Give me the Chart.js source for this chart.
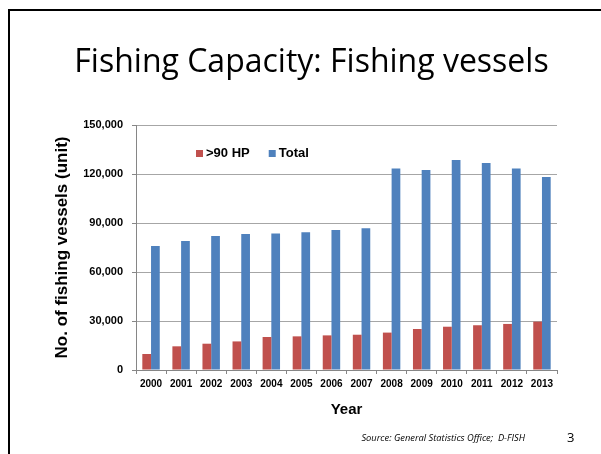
<!DOCTYPE html>
<html>
<head>
<meta charset="utf-8">
<script src="https://cdn.jsdelivr.net/npm/chart.js@4.4.1/dist/chart.umd.min.js"></script>
<style>
  html, body { margin: 0; padding: 0; background: #fff; }
  #slide { position: relative; width: 601px; height: 454px; overflow: hidden; }
  #frame {
    position: absolute; left: 8px; top: 9px; width: 700px; height: 600px;
    border-top: 2px solid #000; border-left: 2px solid #000;
  }
  #title {
    position: absolute; left: 0; top: 44px; width: 623px; text-align: center;
    font-family: "Open Sans", sans-serif; font-size: 32px; line-height: 1; color: #000;
    white-space: nowrap;
  }
  #source {
    position: absolute; right: 76px; top: 433px;
    font-family: "Open Sans", sans-serif; font-style: italic; font-size: 9.3px; line-height: 1; color: #000;
    white-space: nowrap;
  }
  #page {
    position: absolute; left: 567px; top: 431px;
    font-family: "Open Sans", sans-serif; font-size: 13px; line-height: 1; color: #000;
  }
  canvas { position: absolute; left: 0; top: 0; }
</style>
</head>
<body>
<div id="slide">
  <canvas id="chart" width="601" height="454"></canvas>
  <div id="frame"></div>
  <div id="title">Fishing Capacity: Fishing vessels</div>
  <div id="source">Source: General Statistics Office;&nbsp; D-FISH</div>
  <div id="page">3</div>
</div>
<script>
const years = ['2000', '2001', '2002', '2003', '2004', '2005', '2006',
               '2007', '2008', '2009', '2010', '2011', '2012', '2013'];
const over90hp = [9800, 14500, 16100, 17500, 20200, 20600, 21200,
                  21600, 22900, 25100, 26500, 27400, 28200, 29600];
const total = [75900, 79000, 82000, 83300, 83500, 84300, 85700,
               86800, 123300, 122500, 128600, 126700, 123300, 118200];
const yTicks = [0, 30000, 60000, 90000, 120000, 150000];

const FONT = '"Liberation Sans", Arial, sans-serif';
Chart.defaults.font.family = FONT;
Chart.defaults.color = '#000';

// legend drawn inside the plot, like the Excel one
const slideLegend = {
    id: 'slideLegend',
    afterDraw(chart) {
        const ctx = chart.ctx;
        ctx.save();
        ctx.font = 'bold 13px ' + FONT;
        ctx.textBaseline = 'middle';
        let x = 196;
        const y = 153.5;
        chart.data.datasets.forEach(ds => {
            ctx.fillStyle = ds.backgroundColor;
            ctx.fillRect(x, y - 3.5, 7, 7);
            ctx.fillStyle = '#000';
            ctx.fillText(ds.label, x + 10, y);
            x += 10 + ctx.measureText(ds.label).width + 19;
        });
        ctx.restore();
    }
};

new Chart(document.getElementById('chart'), {
    type: 'bar',
    data: {
        labels: years,
        datasets: [
            { label: '>90 HP', data: over90hp, backgroundColor: '#C0504D' },
            { label: 'Total', data: total, backgroundColor: '#4F81BD' }
        ]
    },
    options: {
        responsive: false,
        animation: false,
        devicePixelRatio: 1,
        layout: { padding: { left: 50, right: 44, top: 125, bottom: 30 } },
        datasets: { bar: { categoryPercentage: 0.58, barPercentage: 1 } },
        plugins: { legend: { display: false }, tooltip: { enabled: false } },
        scales: {
            x: {
                grid: { drawOnChartArea: false, tickLength: 4, color: '#868686', offset: true },
                border: { color: '#868686' },
                ticks: { font: { size: 10, weight: 'bold' }, padding: 4, maxRotation: 0, autoSkip: false },
                title: { display: true, text: 'Year', font: { size: 15, weight: 'bold' }, padding: { top: 0, bottom: 5 } },
                afterFit: s => { s.height = 54; }
            },
            y: {
                min: 0,
                max: 150000,
                afterBuildTicks: s => { s.ticks = yTicks.map(v => ({ value: v })); },
                grid: { color: '#a6a6a6', tickLength: 4, tickColor: '#868686' },
                border: { color: '#868686' },
                ticks: { font: { size: 11, weight: 'bold' }, padding: 9, callback: v => v.toLocaleString('en-US') },
                title: { display: true, text: 'No. of fishing vessels (unit)', font: { size: 17, weight: 'bold' }, padding: { top: 2 } },
                afterFit: s => { s.width = 86; }
            }
        }
    },
    plugins: [slideLegend]
});
</script>
</body>
</html>
